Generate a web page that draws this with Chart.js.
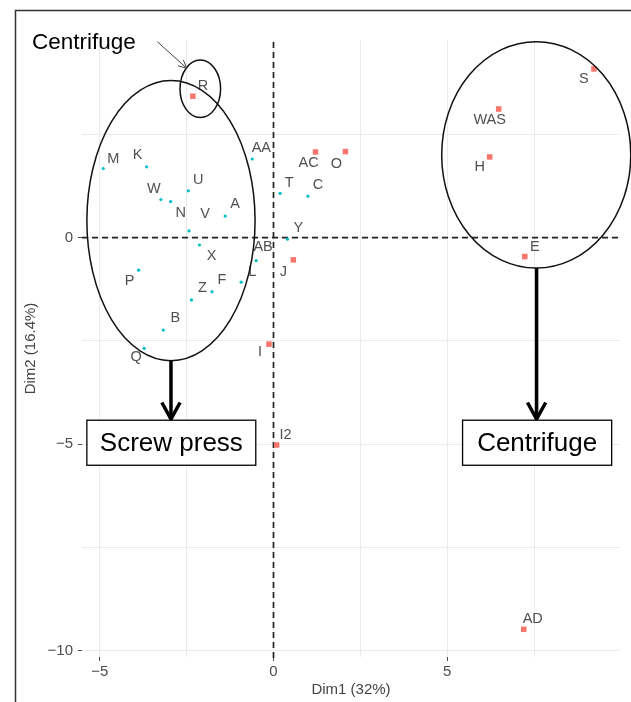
<!DOCTYPE html>
<html>
<head>
<meta charset="utf-8">
<script src="https://cdn.jsdelivr.net/npm/chart.js@4"></script>
<style>
  html, body { margin: 0; padding: 0; background: #fff; }
  canvas { display: block; }
</style>
</head>
<body>
<canvas id="pcaChart" width="631" height="702"></canvas>
<script>
// screw press samples (cyan dots)
const screwNames = ["M", "K", "W", "N", "U", "V", "A", "AA", "T", "C", "Y", "X", "P", "AB", "L", "F", "Z", "B", "Q"];
const screwDim1 = [-4.90, -3.65, -3.24, -2.96, -2.45, -2.43, -1.39, -0.61, 0.19, 0.99, 0.40, -2.13, -3.88, -0.50, -0.93, -1.77, -2.36, -3.17, -3.72];
const screwDim2 = [1.67, 1.71, 0.92, 0.87, 1.13, 0.16, 0.52, 1.90, 1.07, 1.00, -0.04, -0.18, -0.79, -0.56, -1.08, -1.31, -1.51, -2.24, -2.68];

// centrifuge samples (red squares)
const centNames = ["R", "AC", "O", "J", "I", "I2", "S", "WAS", "H", "E", "AD"];
const centDim1 = [-2.32, 1.21, 2.07, 0.57, -0.13, 0.09, 9.22, 6.48, 6.22, 7.23, 7.20];
const centDim2 = [3.42, 2.07, 2.08, -0.54, -2.58, -5.02, 4.08, 3.11, 1.95, -0.46, -9.48];

const xTickLabels = [-5, 0, 5];
const yTickLabels = [0, -5, -10];
const xGridLines = [-5, -2.5, 0, 2.5, 5, 7.5];
const yGridLines = [2.5, 0, -2.5, -5, -7.5, -10];
const xTitle = "Dim1 (32%)";
const yTitle = "Dim2 (16.4%)";

// label nudges in pixels (repelled text)
const labelOffset = {
  M: [10, -10], K: [-9, -12], W: [-7, -11], N: [10, 11], U: [10, -11], V: [16, -17],
  A: [10, -12], AA: [9, -11], T: [9, -10], C: [10, -11], Y: [11, -11], X: [12, 11],
  P: [-9, 11], AB: [7, -14], L: [11, -10], F: [10, -12], Z: [11, -12], B: [12, -12],
  Q: [-8, 9], R: [10, -10], AC: [-7, 11], O: [-9, 12], J: [-10, 12], I: [-9, 8],
  I2: [9, -10], S: [-10, 10], WAS: [-9, 11], H: [-10, 10], E: [10, -10], AD: [9, -10]
};

// hand-drawn annotations, in data units
const groupEllipses = [
  { cx: -2.95, cy: 0.41, rx: 2.42, ry: 3.39 },
  { cx: -2.106, cy: 3.60, rx: 0.584, ry: 0.695 },
  { cx: 7.56, cy: 2.0, rx: 2.72, ry: 2.74 }
];
const boxes = [
  { text: "Screw press", x0: -5.37, x1: -0.51, arrowX: -2.95, from: 0.41 - 3.39 },
  { text: "Centrifuge", x0: 5.44, x1: 9.73, arrowX: 7.57, from: 2.0 - 2.74 }
];
const boxTop = -4.42, boxBottom = -5.51;

const pts = (xs, ys) => xs.map((x, i) => ({ x: x, y: ys[i] }));
const minus = v => String(v).replace("-", "\u2212");

function arrowHead(c, x, y, ang, len, spread) {
  c.beginPath();
  c.moveTo(x - len * Math.cos(ang - spread), y - len * Math.sin(ang - spread));
  c.lineTo(x, y);
  c.lineTo(x - len * Math.cos(ang + spread), y - len * Math.sin(ang + spread));
  c.stroke();
}

const overlay = {
  id: "overlay",
  beforeDraw(chart) {
    const c = chart.ctx;
    c.save();
    c.strokeStyle = "#333";
    c.lineWidth = 1.5;
    c.strokeRect(15.5, 10.5, 700, 800);
    c.restore();
  },
  beforeDatasetsDraw(chart) {
    const { ctx: c, chartArea: a, scales } = chart;
    const x0 = scales.x.getPixelForValue(0), y0 = scales.y.getPixelForValue(0);
    c.save();
    c.strokeStyle = "#222";
    c.lineWidth = 1.7;
    c.setLineDash([6, 4]);
    c.beginPath();
    c.moveTo(x0, a.top + 2); c.lineTo(x0, a.bottom + 3);
    c.moveTo(a.left, y0); c.lineTo(a.right, y0);
    c.stroke();
    c.restore();
  },
  afterDatasetsDraw(chart) {
    const { ctx: c, scales } = chart;
    const X = v => scales.x.getPixelForValue(v), Y = v => scales.y.getPixelForValue(v);
    const sx = Math.abs(X(1) - X(0)), sy = Math.abs(Y(1) - Y(0));
    c.save();
    // point labels
    c.font = "14.5px 'Liberation Sans', Arial, sans-serif";
    c.fillStyle = "#505050";
    c.textAlign = "center";
    c.textBaseline = "middle";
    chart.data.datasets.forEach((ds, di) => {
      const meta = chart.getDatasetMeta(di);
      meta.data.forEach((el, i) => {
        const name = ds.names[i];
        const off = labelOffset[name] || [10, -10];
        c.fillText(name, el.x + off[0], el.y + off[1]);
      });
    });
    // ellipses
    c.strokeStyle = "#111";
    c.lineWidth = 1.5;
    groupEllipses.forEach(e => {
      c.beginPath();
      c.ellipse(X(e.cx), Y(e.cy), e.rx * sx, e.ry * sy, 0, 0, Math.PI * 2);
      c.stroke();
    });
    // arrows and boxes
    boxes.forEach(b => {
      const ax = X(b.arrowX), ay0 = Y(b.from), ay1 = Y(boxTop);
      c.strokeStyle = "#000";
      c.lineWidth = 3.5;
      c.beginPath();
      c.moveTo(ax, ay0); c.lineTo(ax, ay1 - 1);
      c.stroke();
      arrowHead(c, ax, ay1 - 1, Math.PI / 2, 19, 0.5);
      const bx0 = X(b.x0), bx1 = X(b.x1), by0 = Y(boxTop), by1 = Y(boxBottom);
      c.fillStyle = "#fff";
      c.fillRect(bx0, by0, bx1 - bx0, by1 - by0);
      c.lineWidth = 1.3;
      c.strokeRect(bx0, by0, bx1 - bx0, by1 - by0);
      c.fillStyle = "#000";
      c.font = "26px 'Liberation Sans', Arial, sans-serif";
      c.textAlign = "center";
      c.textBaseline = "middle";
      c.fillText(b.text, (bx0 + bx1) / 2, (by0 + by1) / 2 + 1);
    });
    // top callout for R
    c.fillStyle = "#000";
    c.font = "22.5px 'Liberation Sans', Arial, sans-serif";
    c.textAlign = "left";
    c.textBaseline = "alphabetic";
    c.fillText("Centrifuge", X(-6.95), Y(4.555));
    c.strokeStyle = "#444";
    c.lineWidth = 1;
    const tx0 = X(-3.342), ty0 = Y(4.739), tx1 = X(-2.496), ty1 = Y(4.095);
    c.beginPath();
    c.moveTo(tx0, ty0); c.lineTo(tx1, ty1);
    c.stroke();
    arrowHead(c, tx1, ty1, Math.atan2(ty1 - ty0, tx1 - tx0), 9, 0.45);
    c.restore();
  }
};

const tickFont = { family: "'Liberation Sans', Arial, sans-serif", size: 15 };
const titleFont = { family: "'Liberation Sans', Arial, sans-serif", size: 15 };

new Chart(document.getElementById("pcaChart"), {
  type: "scatter",
  data: {
    datasets: [
      {
        label: "Screw press",
        names: screwNames,
        data: pts(screwDim1, screwDim2),
        pointStyle: "circle",
        pointRadius: 1.6,
        pointBorderWidth: 0,
        backgroundColor: "#00BFC4",
        borderColor: "#00BFC4",
        clip: false
      },
      {
        label: "Centrifuge",
        names: centNames,
        data: pts(centDim1, centDim2),
        pointStyle: "rect",
        pointRadius: 3.9,
        pointBorderWidth: 0,
        backgroundColor: "#F8766D",
        borderColor: "#F8766D",
        clip: false
      }
    ]
  },
  options: {
    responsive: false,
    animation: false,
    layout: { padding: { top: 40, right: 11, left: 0, bottom: 0 } },
    plugins: { legend: { display: false }, tooltip: { enabled: false } },
    scales: {
      x: {
        type: "linear",
        min: -5.51,
        max: 9.97,
        afterBuildTicks: s => { s.ticks = xGridLines.map(v => ({ value: v })); },
        afterFit: s => { s.height = 45; },
        border: { display: false },
        grid: {
          color: "#EBEBEB",
          lineWidth: 1,
          tickLength: 4,
          tickColor: ctx => xTickLabels.includes(ctx.tick && ctx.tick.value) ? "#4D4D4D" : "rgba(0,0,0,0)"
        },
        ticks: {
          font: tickFont,
          color: "#4D4D4D",
          padding: 2,
          autoSkip: false,
          maxRotation: 0,
          callback: v => xTickLabels.includes(v) ? minus(v) : ""
        },
        title: { display: true, text: xTitle, font: titleFont, color: "#444", padding: { top: 0, bottom: 3.6 } }
      },
      y: {
        type: "linear",
        min: -10.15,
        max: 4.78,
        afterBuildTicks: s => { s.ticks = yGridLines.map(v => ({ value: v })); },
        afterFit: s => { s.width = 82; },
        border: { display: false },
        grid: {
          color: "#EBEBEB",
          lineWidth: 1,
          tickLength: 4,
          tickColor: ctx => yTickLabels.includes(ctx.tick && ctx.tick.value) ? "#4D4D4D" : "rgba(0,0,0,0)"
        },
        ticks: {
          font: tickFont,
          color: "#4D4D4D",
          padding: 5,
          autoSkip: false,
          callback: v => yTickLabels.includes(v) ? minus(v) : ""
        },
        title: { display: true, text: yTitle, font: titleFont, color: "#444", padding: { top: 21.6, bottom: 0 } }
      }
    }
  },
  plugins: [overlay]
});
</script>
</body>
</html>
